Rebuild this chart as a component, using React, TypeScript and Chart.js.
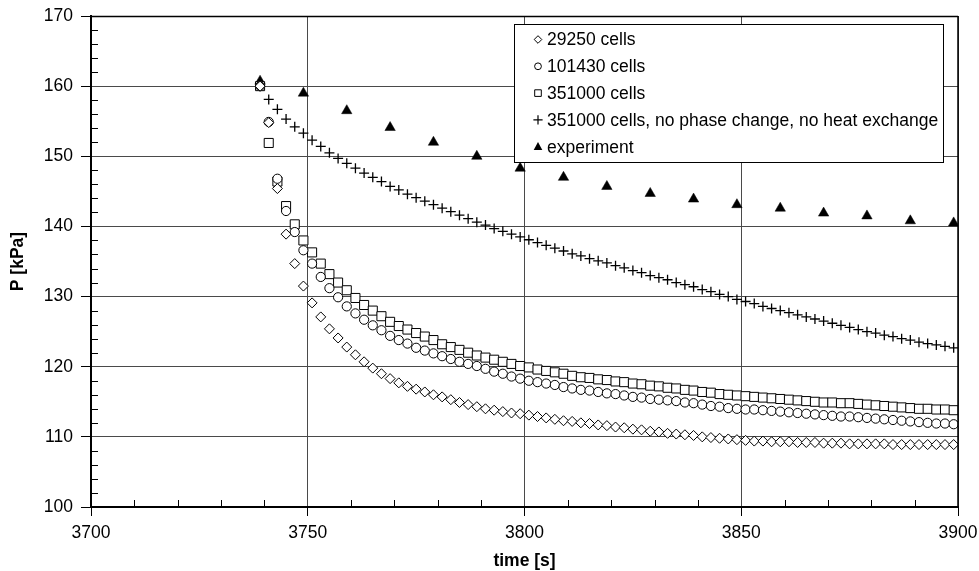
import React, { useEffect, useRef } from 'react';
import { Chart, registerables } from 'chart.js';

Chart.register(...registerables);

// time [s] of the simulated points
const times = [
  3739, 3741, 3743, 3745, 3747, 3749, 3751, 3753, 3755, 3757,
  3759, 3761, 3763, 3765, 3767, 3769, 3771, 3773, 3775, 3777,
  3779, 3781, 3783, 3785, 3787, 3789, 3791, 3793, 3795, 3797,
  3799, 3801, 3803, 3805, 3807, 3809, 3811, 3813, 3815, 3817,
  3819, 3821, 3823, 3825, 3827, 3829, 3831, 3833, 3835, 3837,
  3839, 3841, 3843, 3845, 3847, 3849, 3851, 3853, 3855, 3857,
  3859, 3861, 3863, 3865, 3867, 3869, 3871, 3873, 3875, 3877,
  3879, 3881, 3883, 3885, 3887, 3889, 3891, 3893, 3895, 3897,
  3899,
];

const cells29250 = [
  160.0, 154.8, 145.4, 138.9, 134.7, 131.5, 129.1, 127.1, 125.4, 124.1,
  122.8, 121.7, 120.7, 119.8, 119.0, 118.3, 117.7, 117.2, 116.8, 116.4,
  116.0, 115.7, 115.3, 114.9, 114.6, 114.3, 114.0, 113.8, 113.6, 113.4,
  113.3, 113.1, 112.9, 112.7, 112.5, 112.3, 112.2, 112.0, 111.9, 111.7,
  111.6, 111.4, 111.3, 111.1, 111.0, 110.8, 110.7, 110.5, 110.4, 110.3,
  110.2, 110.0, 109.9, 109.8, 109.7, 109.6, 109.5, 109.4, 109.4, 109.3,
  109.3, 109.3, 109.2, 109.2, 109.2, 109.1, 109.1, 109.1, 109.0, 109.0,
  109.0, 109.0, 109.0, 108.9, 108.9, 108.9, 108.9, 108.9, 108.9, 108.9,
  108.9,
];

const cells101430 = [
  160.0, 154.9, 146.8, 142.2, 139.2, 136.6, 134.7, 132.8, 131.2, 129.9,
  128.6, 127.6, 126.7, 125.9, 125.2, 124.4, 123.8, 123.3, 122.7, 122.3,
  121.9, 121.5, 121.1, 120.7, 120.4, 120.1, 119.7, 119.3, 119.0, 118.6,
  118.3, 118.0, 117.8, 117.6, 117.4, 117.1, 116.9, 116.7, 116.6, 116.4,
  116.2, 116.1, 115.9, 115.7, 115.6, 115.4, 115.3, 115.2, 115.1, 114.9,
  114.8, 114.6, 114.4, 114.3, 114.1, 114.0, 113.9, 113.9, 113.8, 113.7,
  113.6, 113.5, 113.4, 113.3, 113.2, 113.1, 113.0, 112.9, 112.9, 112.8,
  112.7, 112.6, 112.5, 112.4, 112.3, 112.2, 112.1, 112.0, 111.9, 111.9,
  111.8,
];

const cells351000 = [
  160.0, 151.9, 146.4, 142.9, 140.3, 138.0, 136.3, 134.7, 133.2, 132.0,
  130.9, 129.8, 128.8, 128.0, 127.2, 126.4, 125.8, 125.3, 124.8, 124.3,
  123.8, 123.2, 122.8, 122.4, 122.0, 121.6, 121.3, 121.0, 120.7, 120.4,
  120.1, 119.9, 119.6, 119.4, 119.2, 119.0, 118.7, 118.5, 118.4, 118.2,
  118.1, 117.9, 117.8, 117.6, 117.5, 117.3, 117.2, 117.0, 116.9, 116.7,
  116.6, 116.4, 116.3, 116.1, 116.0, 115.9, 115.8, 115.7, 115.6, 115.5,
  115.4, 115.3, 115.2, 115.1, 115.0, 114.9, 114.9, 114.8, 114.8, 114.7,
  114.6, 114.5, 114.4, 114.3, 114.2, 114.1, 114.0, 114.0, 113.9, 113.9,
  113.8,
];

const cells351000NoPhase = [
  160.0, 158.1, 156.7, 155.3, 154.2, 153.3, 152.3, 151.4, 150.5, 149.7,
  149.0, 148.3, 147.6, 147.0, 146.4, 145.7, 145.2, 144.6, 144.1, 143.6,
  143.1, 142.6, 142.1, 141.6, 141.1, 140.6, 140.2, 139.7, 139.3, 138.9,
  138.5, 138.1, 137.7, 137.3, 136.9, 136.5, 136.1, 135.8, 135.4, 135.1,
  134.8, 134.4, 134.1, 133.7, 133.4, 133.0, 132.7, 132.4, 132.0, 131.7,
  131.4, 131.0, 130.7, 130.3, 130.0, 129.6, 129.3, 129.0, 128.6, 128.3,
  128.0, 127.7, 127.4, 127.1, 126.8, 126.5, 126.2, 125.9, 125.6, 125.3,
  125.0, 124.8, 124.5, 124.3, 124.0, 123.8, 123.5, 123.3, 123.1, 122.9,
  122.7,
];

const expTimes = [
  3739, 3749, 3759, 3769, 3779, 3789, 3799, 3809, 3819,
  3829, 3839, 3849, 3859, 3869, 3879, 3889, 3899,
];
const experiment = [
  160.7, 159.0, 156.5, 154.1, 152.0, 150.0, 148.3, 147.0, 145.7,
  144.7, 143.9, 143.1, 142.6, 141.9, 141.5, 140.8, 140.5,
];

const seriesLabels = [
  '29250 cells',
  '101430 cells',
  '351000 cells',
  '351000 cells, no phase change, no heat exchange',
  'experiment',
];

const xTitle = 'time [s]';
const yTitle = 'P [kPa]';

const FONT = '"Liberation Sans", Arial, Helvetica, sans-serif';

function toPoints(xs: number[], ys: number[]) {
  return xs.map((x, i) => ({ x, y: ys[i] }));
}

function drawLegendMarker(ctx: CanvasRenderingContext2D, kind: number, x: number, y: number) {
  ctx.save();
  ctx.strokeStyle = '#000';
  ctx.fillStyle = '#fff';
  ctx.lineWidth = 1;
  ctx.beginPath();
  if (kind === 0) {
    const r = 3.8;
    ctx.moveTo(x - r, y); ctx.lineTo(x, y - r); ctx.lineTo(x + r, y); ctx.lineTo(x, y + r); ctx.closePath();
    ctx.fill(); ctx.stroke();
  } else if (kind === 1) {
    ctx.arc(x, y, 3.4, 0, Math.PI * 2);
    ctx.fill(); ctx.stroke();
  } else if (kind === 2) {
    ctx.rect(x - 3.3, y - 3.3, 6.6, 6.6);
    ctx.fill(); ctx.stroke();
  } else if (kind === 3) {
    const r = 4.6;
    ctx.lineWidth = 1.2;
    ctx.moveTo(x - r, y); ctx.lineTo(x + r, y); ctx.moveTo(x, y - r); ctx.lineTo(x, y + r);
    ctx.stroke();
  } else {
    ctx.fillStyle = '#000';
    ctx.moveTo(x, y - 4.6); ctx.lineTo(x + 4.3, y + 3.2); ctx.lineTo(x - 4.3, y + 3.2); ctx.closePath();
    ctx.fill();
  }
  ctx.restore();
}

const decorPlugin = {
  id: 'decor',
  afterDatasetsDraw(chart: any) {
    const { ctx, chartArea, scales } = chart;
    const xs = scales.x;
    const ys = scales.y;
    const { left, right, top, bottom } = chartArea;
    ctx.save();
    ctx.strokeStyle = '#000';
    ctx.lineWidth = 1;
    // minor ticks on y (every 2 kPa), inside
    for (let v = 100; v <= 170; v += 2) {
      if (v % 10 === 0) continue;
      const py = Math.round(ys.getPixelForValue(v)) + 0.5;
      ctx.beginPath();
      ctx.moveTo(left, py);
      ctx.lineTo(left + 7, py);
      ctx.stroke();
    }
    // minor ticks on x (every 10 s), inside
    for (let t = 3700; t <= 3900; t += 10) {
      if (t % 50 === 0) continue;
      const px = Math.round(xs.getPixelForValue(t)) + 0.5;
      ctx.beginPath();
      ctx.moveTo(px, bottom);
      ctx.lineTo(px, bottom - 7);
      ctx.stroke();
    }
    // frame top and right
    ctx.lineWidth = 1.5;
    ctx.beginPath();
    ctx.moveTo(left, top + 0.5);
    ctx.lineTo(right, top + 0.5);
    ctx.moveTo(right, top);
    ctx.lineTo(right, bottom);
    ctx.stroke();
    ctx.restore();
  },
  afterDraw(chart: any) {
    const { ctx, chartArea } = chart;
    const { left, right, top, bottom } = chartArea;
    ctx.save();
    // axis titles
    ctx.fillStyle = '#000';
    ctx.font = `bold 17.5px ${FONT}`;
    ctx.textAlign = 'center';
    ctx.textBaseline = 'middle';
    ctx.fillText(xTitle, (left + right) / 2, 561);
    ctx.save();
    ctx.translate(18, (top + bottom) / 2);
    ctx.rotate(-Math.PI / 2);
    ctx.fillText(yTitle, 0, 0);
    ctx.restore();

    // legend box
    ctx.font = `17.5px ${FONT}`;
    let maxW = 0;
    seriesLabels.forEach((l) => { maxW = Math.max(maxW, ctx.measureText(l).width); });
    const boxW = Math.round(maxW + 38);
    const boxR = Math.round(right - 15);
    const boxL = boxR - boxW;
    const boxT = Math.round(top + 8);
    const boxH = 138;
    ctx.fillStyle = '#fff';
    ctx.fillRect(boxL, boxT, boxW, boxH);
    ctx.strokeStyle = '#000';
    ctx.lineWidth = 1;
    ctx.strokeRect(boxL + 0.5, boxT + 0.5, boxW, boxH);
    ctx.textAlign = 'left';
    ctx.textBaseline = 'middle';
    seriesLabels.forEach((l, i) => {
      const cy = boxT + 15.5 + i * 26.8;
      drawLegendMarker(ctx, i, boxL + 24, cy);
      ctx.fillStyle = '#000';
      ctx.fillText(l, boxL + 33, cy + 1);
    });
    ctx.restore();
  },
};

export default function App() {
  const canvasRef = useRef<HTMLCanvasElement | null>(null);

  useEffect(() => {
    document.body.style.margin = '0';
    const canvas = canvasRef.current;
    if (!canvas) return;
    const hollow = {
      borderColor: '#000',
      backgroundColor: '#fff',
      pointBorderColor: '#000',
      pointBackgroundColor: '#fff',
      pointBorderWidth: 1,
      showLine: false,
    };
    const chart = new Chart(canvas, {
      type: 'scatter',
      data: {
        datasets: [
          { ...hollow, label: seriesLabels[0], data: toPoints(times, cells29250), pointStyle: 'rectRot', pointRadius: 5 },
          { ...hollow, label: seriesLabels[1], data: toPoints(times, cells101430), pointStyle: 'circle', pointRadius: 4.6 },
          { ...hollow, label: seriesLabels[2], data: toPoints(times, cells351000), pointStyle: 'rect', pointRadius: 6.4 },
          { ...hollow, label: seriesLabels[3], data: toPoints(times, cells351000NoPhase), pointStyle: 'cross', pointRadius: 5, pointBorderWidth: 1.3 },
          {
            label: seriesLabels[4],
            data: toPoints(expTimes, experiment),
            pointStyle: 'triangle',
            pointRadius: 6,
            pointBorderWidth: 0.5,
            pointBorderColor: '#000',
            pointBackgroundColor: '#000',
            borderColor: '#000',
            backgroundColor: '#000',
            showLine: false,
          },
        ],
      },
      options: {
        responsive: false,
        animation: false,
        events: [],
        layout: { padding: { left: 0, right: 21, top: 16, bottom: 0 } },
        plugins: {
          legend: { display: false },
          tooltip: { enabled: false },
          title: { display: false },
        },
        scales: {
          x: {
            type: 'linear',
            min: 3700,
            max: 3900,
            ticks: {
              stepSize: 50,
              color: '#000',
              font: { family: FONT, size: 17.5 },
              padding: 7,
              maxRotation: 0,
              autoSkip: false,
              callback: (v: any) => String(v),
            },
            grid: {
              color: '#4a4a4a',
              lineWidth: 1,
              tickLength: 9,
              tickColor: '#000',
              tickWidth: 1,
            },
            border: { display: true, color: '#000', width: 2 },
            afterFit: (scale: any) => {
              scale.height = 64;
              scale.paddingLeft = 0;
              scale.paddingRight = 0;
            },
          },
          y: {
            type: 'linear',
            min: 100,
            max: 170,
            ticks: {
              stepSize: 10,
              color: '#000',
              font: { family: FONT, size: 17.5 },
              padding: 8,
              callback: (v: any) => String(v),
            },
            grid: {
              color: '#4a4a4a',
              lineWidth: 1,
              tickLength: 10,
              tickColor: '#000',
              tickWidth: 1,
            },
            border: { display: true, color: '#000', width: 2 },
            afterFit: (scale: any) => {
              scale.width = 91;
              scale.paddingTop = 0;
              scale.paddingBottom = 0;
            },
          },
        },
      },
      plugins: [decorPlugin],
    });
    return () => chart.destroy();
  }, []);

  return (
    <div style={{ width: 979, height: 571, background: '#fff' }}>
      <canvas ref={canvasRef} width={979} height={571} style={{ display: 'block' }} />
    </div>
  );
}
